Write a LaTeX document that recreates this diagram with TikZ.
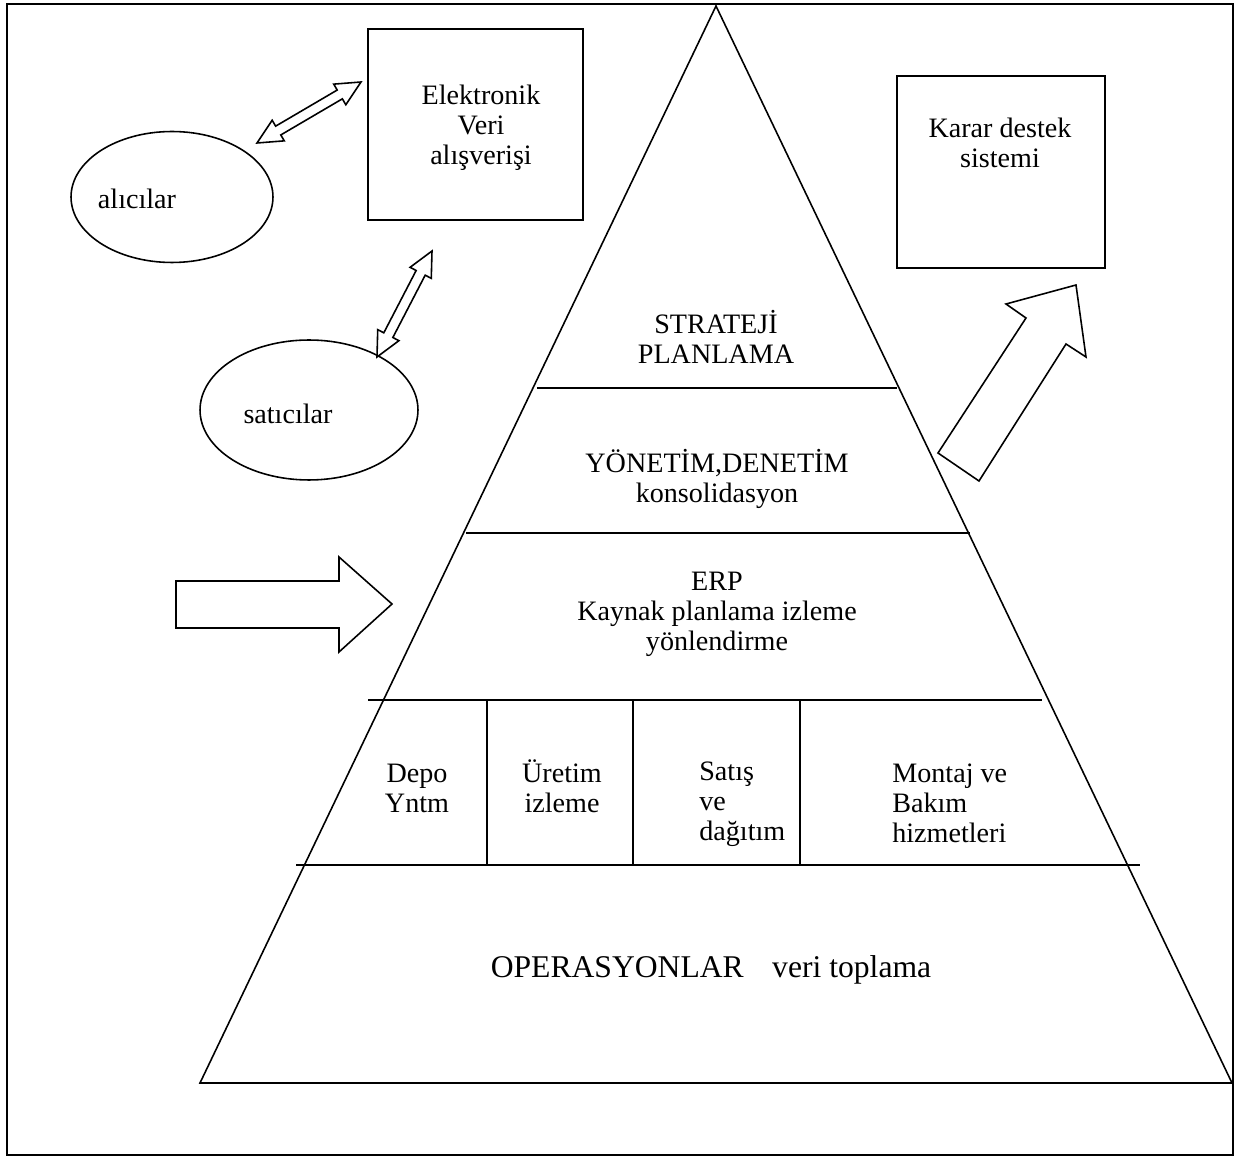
\documentclass[tikz,border=0pt]{standalone}
\usepackage{fontspec}
\setmainfont{Liberation Serif}
\usetikzlibrary{calc,shapes.geometric}
\tikzset{
	outline/.style={line width=0.9pt, color=black},
	txt/.style={font=\fontsize{16}{17}\selectfont, align=center, inner sep=0pt},
	bigtxt/.style={font=\fontsize{18}{20}\selectfont, inner sep=0pt},
	bubble/.style={ellipse, draw, outline},
	panel/.style={rectangle, draw, outline}
}
\def\twoheads(#1)(#2){
	\coordinate (ha) at ($(#1)!14pt!(#2)$);
	\coordinate (hb) at ($(#2)!14pt!(#1)$);
	\draw[outline, line join=miter] (#1) -- ($(ha)!6.8pt!90:(#2)$) -- ($(ha)!2.9pt!90:(#2)$)
		-- ($(hb)!2.9pt!-90:(#1)$) -- ($(hb)!6.8pt!-90:(#1)$) -- (#2)
		-- ($(hb)!6.8pt!90:(#1)$) -- ($(hb)!2.9pt!90:(#1)$)
		-- ($(ha)!2.9pt!-90:(#2)$) -- ($(ha)!6.8pt!-90:(#2)$) -- cycle;
}

\begin{document}
\begin{tikzpicture}[x=0.02cm, y=-0.02cm]
	%%%%% START %%%%%
	\useasboundingbox (0, 0) rectangle (1245, 1158);
	\draw[outline] (7, 4) rectangle (1233, 1155);
	
	% pyramid
	\draw[outline] (716, 6) -- (200, 1083) -- (1232, 1083) -- cycle;
	\draw[outline] (537, 388) -- (897, 388);
	\draw[outline] (466, 533) -- (970, 533);
	\draw[outline] (368, 700) -- (1042, 700);
	\draw[outline] (296, 865) -- (1140, 865);
	\draw[outline] (487, 700) -- (487, 865);
	\draw[outline] (633, 700) -- (633, 865);
	\draw[outline] (800, 700) -- (800, 865);
	
	\node[txt] (strateji) at (716, 337) {STRATEJİ\\PLANLAMA};
	\node[txt] (yonetim) at (717, 479) {YÖNETİM,DENETİM\\konsolidasyon};
	\node[txt] (erp) at (717, 614) {ERP\\Kaynak planlama izleme\\yönlendirme};
	\node[txt] (depo) at (417, 788) {Depo\\Yntm};
	\node[txt] (uretim) at (562, 786) {Üretim\\izleme};
	\node[txt, align=left, anchor=west] (satis) at (699, 804) {Satış\\ve\\dağıtım};
	\node[txt, align=left, anchor=west] (montaj) at (892, 803) {Montaj ve\\Bakım\\hizmetleri};
	\node[bigtxt] (ops) at (711, 970) {OPERASYONLAR\hspace{0.9em}veri toplama};
	
	% boxes and bubbles
	\node[panel, minimum width=4.3cm, minimum height=3.82cm] (edi) at (475.5, 124.5) {};
	\node[txt] (editxt) at (481, 128) {Elektronik\\Veri\\alışverişi};
	\node[panel, minimum width=4.16cm, minimum height=3.84cm] (karar) at (1001, 172) {};
	\node[txt] (karartxt) at (1000, 143) {Karar destek\\sistemi};
	
	\node[bubble, minimum width=4.04cm, minimum height=2.62cm] (alici) at (172, 197) {};
	\node[txt] (alicitxt) at (137, 199) {alıcılar};
	\node[bubble, minimum width=4.36cm, minimum height=2.8cm] (satici) at (309, 410) {};
	\node[txt] (saticitxt) at (288, 414) {satıcılar};
	
	% block arrows
	\coordinate (a1) at (257, 143);
	\coordinate (b1) at (361, 82);
	\coordinate (a2) at (377, 357);
	\coordinate (b2) at (432, 251);
	\twoheads(a1)(b1)
	\twoheads(a2)(b2)
	
	\draw[outline, line join=miter] (176, 581) -- (339, 581) -- (339, 557) -- (392, 604)
		-- (339, 652) -- (339, 628) -- (176, 628) -- cycle;
	\draw[outline, line join=miter] (938, 453) -- (1026, 318) -- (1006, 304) -- (1076, 285)
		-- (1086, 357) -- (1066, 344) -- (979, 481) -- cycle;
	%%%%% END %%%%%
\end{tikzpicture}
\end{document}
